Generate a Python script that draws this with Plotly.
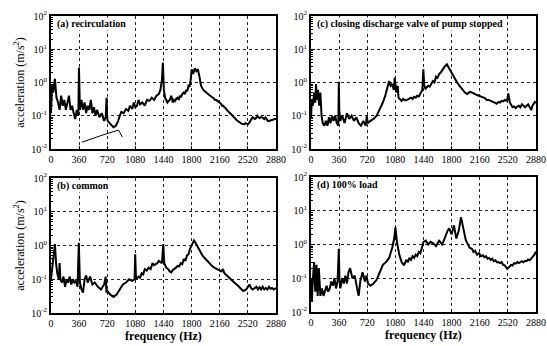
import plotly.graph_objects as go

# ---------------- data ----------------
freq_a = [0, 15, 30, 50, 70, 90, 110, 130, 150, 170, 190, 210, 230, 250, 270, 290, 310, 330, 350, 358, 362, 370,
          390, 410, 430, 450, 470, 490, 510, 530, 550, 570, 590, 620, 650, 680, 700, 712, 718, 725, 750, 780, 800,
          830, 860, 880, 900, 930, 960, 990, 1010, 1040, 1060, 1080, 1100, 1120, 1140, 1170, 1200, 1230, 1260, 1290,
          1320, 1350, 1380, 1400, 1420, 1432, 1445, 1460, 1475, 1490, 1505, 1520, 1540, 1560, 1575, 1590, 1605, 1620,
          1635, 1650, 1665, 1680, 1700, 1715, 1730, 1745, 1760, 1775, 1790, 1800, 1820, 1840, 1860, 1880, 1900, 1920,
          1950, 1965, 1980, 1995, 2010, 2025, 2040, 2055, 2070, 2085, 2100, 2115, 2130, 2145, 2160, 2175, 2190, 2205,
          2220, 2235, 2250, 2265, 2280, 2295, 2310, 2325, 2340, 2355, 2370, 2385, 2400, 2415, 2430, 2445, 2460, 2475,
          2490, 2505, 2520, 2535, 2550, 2565, 2580, 2595, 2610, 2625, 2640, 2655, 2670, 2685, 2700, 2715, 2730, 2745,
          2760, 2775, 2790, 2805, 2820, 2835, 2850, 2865, 2880]
acc_a = [0.12, 0.9, 0.5, 1.3, 0.35, 0.25, 0.15, 0.4, 0.2, 0.3, 0.15, 0.25, 0.4, 0.15, 0.2, 0.12, 0.08, 0.15, 0.1, 2.8,
         0.4, 0.15, 0.3, 0.15, 0.25, 0.12, 0.2, 0.15, 0.3, 0.12, 0.18, 0.1, 0.15, 0.09, 0.12, 0.07, 0.09, 0.35, 0.1,
         0.07, 0.06, 0.05, 0.045, 0.05, 0.07, 0.1, 0.13, 0.12, 0.16, 0.14, 0.2, 0.16, 0.25, 0.18, 0.2, 0.3, 0.22, 0.25,
         0.2, 0.3, 0.28, 0.35, 0.3, 0.4, 0.45, 0.6, 1.2, 4.0, 0.6, 0.35, 0.3, 0.25, 0.28, 0.3, 0.4, 0.25, 0.3, 0.28,
         0.33, 0.35, 0.3, 0.4, 0.36, 0.45, 0.5, 0.45, 0.6, 0.55, 0.8, 0.75, 1.3, 2.5, 1.8, 2.7, 2.2, 2.5, 1.5, 0.8,
         0.6, 0.55, 0.5, 0.48, 0.45, 0.42, 0.4, 0.37, 0.35, 0.33, 0.3, 0.3, 0.28, 0.26, 0.25, 0.23, 0.2, 0.2,
         0.18, 0.17, 0.15, 0.14, 0.13, 0.12, 0.11, 0.1, 0.09, 0.085, 0.075, 0.07, 0.065, 0.062, 0.06, 0.057, 0.055,
         0.056, 0.06, 0.057, 0.055, 0.06, 0.07, 0.075, 0.09, 0.085, 0.08, 0.085, 0.1, 0.09, 0.085, 0.09, 0.09, 0.085,
         0.08, 0.09, 0.075, 0.07, 0.07, 0.072, 0.075, 0.078, 0.08, 0.08, 0.08]

freq_b = [0, 20, 35, 50, 65, 80, 100, 110, 120, 140, 160, 180, 200, 220, 240, 260, 280, 300, 320, 340, 356, 362, 370,
          390, 410, 430, 450, 470, 500, 530, 560, 600, 640, 680, 700, 710, 720, 760, 800, 840, 880, 920, 960, 1000,
          1040, 1070, 1078, 1088, 1120, 1140, 1160, 1180, 1200, 1225, 1250, 1275, 1300, 1320, 1340, 1360, 1380, 1400,
          1420, 1437, 1450, 1475, 1500, 1520, 1540, 1560, 1580, 1600, 1620, 1640, 1660, 1680, 1700, 1720, 1740, 1760,
          1780, 1810, 1830, 1850, 1880, 1910, 1940, 1970, 2000, 2030, 2060, 2090, 2120, 2150, 2180, 2200, 2220, 2250,
          2280, 2300, 2330, 2360, 2390, 2420, 2460, 2500, 2540, 2560, 2580, 2610, 2630, 2650, 2670, 2690, 2710, 2730,
          2750, 2770, 2790, 2810, 2830, 2850, 2880]
acc_b = [0.1, 0.3, 0.5, 1.1, 0.3, 0.15, 0.1, 0.3, 0.1, 0.08, 0.12, 0.06, 0.1, 0.08, 0.12, 0.07, 0.1, 0.08, 0.09, 0.06,
         1.2, 0.2, 0.08, 0.05, 0.04, 0.1, 0.13, 0.08, 0.12, 0.07, 0.08, 0.06, 0.05, 0.07, 0.12, 0.04, 0.045, 0.035,
         0.03, 0.035, 0.05, 0.07, 0.08, 0.1, 0.09, 0.1, 0.55, 0.1, 0.12, 0.11, 0.15, 0.14, 0.2, 0.18, 0.22, 0.2, 0.3,
         0.26, 0.28, 0.3, 0.35, 0.32, 0.3, 1.1, 0.3, 0.22, 0.2, 0.17, 0.16, 0.19, 0.2, 0.22, 0.25, 0.24, 0.3, 0.28,
         0.4, 0.35, 0.5, 0.55, 0.8, 1.1, 1.4, 1.2, 0.9, 0.65, 0.5, 0.42, 0.35, 0.3, 0.25, 0.22, 0.2, 0.18, 0.17,
         0.2, 0.15, 0.13, 0.11, 0.1, 0.085, 0.075, 0.065, 0.055, 0.045, 0.05, 0.07, 0.055, 0.05, 0.055, 0.06, 0.05,
         0.058, 0.05, 0.06, 0.05, 0.055, 0.05, 0.06, 0.052, 0.055, 0.05, 0.055, 0.06]

freq_c = [0, 10, 25, 40, 55, 64, 75, 90, 105, 120, 135, 150, 170, 190, 210, 230, 250, 270, 290, 310, 330, 350, 356,
          362, 375, 400, 430, 460, 490, 520, 550, 580, 610, 640, 670, 700, 715, 725, 760, 800, 840, 880, 920, 950,
          980, 1000, 1020, 1040, 1060, 1072, 1090, 1110, 1120, 1140, 1160, 1180, 1205, 1230, 1255, 1280, 1300, 1320,
          1340, 1360, 1380, 1400, 1425, 1438, 1450, 1465, 1480, 1500, 1520, 1540, 1560, 1580, 1600, 1620, 1640, 1660,
          1680, 1710, 1740, 1770, 1800, 1830, 1870, 1900, 1940, 1970, 2000, 2030, 2060, 2080, 2100, 2125, 2150,
          2175, 2200, 2225, 2250, 2275, 2300, 2325, 2350, 2375, 2400, 2420, 2440, 2460, 2480, 2510, 2525, 2545, 2565,
          2580, 2600, 2620, 2640, 2660, 2680, 2700, 2720, 2740, 2760, 2780, 2800, 2820, 2835, 2850, 2865, 2880]
acc_c = [0.08, 0.3, 0.2, 0.5, 0.25, 0.9, 0.3, 0.6, 0.2, 0.5, 0.1, 0.06, 0.05, 0.07, 0.05, 0.09, 0.06, 0.1, 0.07, 0.1,
         0.06, 0.05, 1.05, 0.15, 0.07, 0.1, 0.06, 0.12, 0.08, 0.1, 0.07, 0.09, 0.06, 0.05, 0.07, 0.05, 0.1, 0.06, 0.07,
         0.08, 0.1, 0.15, 0.25, 0.4, 0.7, 1.1, 0.8, 0.9, 0.6, 1.4, 0.5, 0.8, 0.35, 0.3, 0.28, 0.32, 0.29, 0.3, 0.33,
         0.35, 0.32, 0.37, 0.35, 0.4, 0.38, 0.45, 0.6, 2.5, 0.8, 0.65, 0.7, 0.8, 0.75, 0.9, 1.1, 1.0, 1.5, 1.4, 1.8,
         2.0, 2.4, 3.0, 3.5, 2.6, 2.0, 1.5, 1.0, 0.8, 0.6, 0.5, 0.45, 0.52, 0.5, 0.46, 0.45, 0.42, 0.4, 0.38, 0.36,
         0.34, 0.3, 0.3, 0.28, 0.27, 0.25, 0.23, 0.26, 0.25, 0.28, 0.27, 0.3, 0.28, 0.47, 0.25, 0.2, 0.18, 0.19,
         0.17, 0.19, 0.2, 0.18, 0.22, 0.2, 0.18, 0.2, 0.22, 0.18, 0.15, 0.2, 0.22, 0.26, 0.24]

freq_d = [0, 10, 25, 40, 55, 70, 85, 100, 120, 140, 160, 180, 200, 220, 240, 260, 280, 300, 320, 340, 356, 364, 375,
          400, 420, 440, 460, 480, 500, 530, 560, 590, 610, 630, 660, 690, 710, 730, 760, 800, 840, 880, 920, 960,
          1000, 1040, 1065, 1080, 1100, 1130, 1160, 1190, 1220, 1240, 1260, 1280, 1300, 1320, 1340, 1360, 1380, 1400,
          1420, 1440, 1470, 1500, 1530, 1560, 1600, 1640, 1680, 1720, 1750, 1770, 1800, 1830, 1860, 1890, 1920,
          1950, 1980, 2000, 2030, 2060, 2080, 2100, 2125, 2150, 2175, 2200, 2220, 2240, 2260, 2280, 2300, 2320,
          2340, 2360, 2380, 2400, 2420, 2440, 2460, 2480, 2510, 2540, 2560, 2580, 2600, 2620, 2640, 2660, 2680,
          2700, 2720, 2740, 2760, 2780, 2800, 2820, 2840, 2860, 2880]
acc_d = [0.1, 0.02, 0.1, 0.3, 0.04, 0.25, 0.03, 0.2, 0.03, 0.05, 0.03, 0.04, 0.06, 0.04, 0.05, 0.08, 0.06, 0.1, 0.05,
         0.08, 0.75, 0.1, 0.05, 0.1, 0.07, 0.12, 0.07, 0.15, 0.2, 0.1, 0.12, 0.05, 0.03, 0.08, 0.15, 0.08, 0.12,
         0.07, 0.06, 0.07, 0.09, 0.15, 0.25, 0.3, 0.4, 0.8, 1.5, 3.2, 1.2, 0.5, 0.3, 0.24, 0.35, 0.3, 0.4, 0.35, 0.45,
         0.4, 0.5, 0.45, 0.6, 0.55, 0.8, 1.2, 1.3, 1.0, 1.2, 1.1, 0.9, 1.3, 1.0, 1.8, 2.6, 3.0, 2.0, 3.7, 1.5, 2.5,
         6.4, 3.0, 1.4, 1.1, 0.8, 0.75, 0.6, 0.65, 0.5, 0.55, 0.45, 0.48, 0.42, 0.45, 0.38, 0.4, 0.35, 0.38, 0.32,
         0.34, 0.3, 0.3, 0.28, 0.3, 0.25, 0.24, 0.19, 0.22, 0.25, 0.24, 0.28, 0.27, 0.3, 0.28, 0.3, 0.32, 0.3, 0.33,
         0.32, 0.36, 0.34, 0.38, 0.45, 0.5, 0.62]

pointer_f = [396, 500, 588, 716, 800, 865, 912]
pointer_v = [0.016, 0.02, 0.023, 0.029, 0.034, 0.037, 0.023]

panel_titles = ["(a) recirculation", "(b) common",
                "(c) closing discharge valve of pump stopped", "(d) 100% load"]
x_ticks = [0, 360, 720, 1080, 1440, 1800, 2160, 2520, 2880]
y_ticks = [0.01, 0.1, 1, 10, 100]
y_ticktext = ["10<sup>-2</sup>", "10<sup>-1</sup>", "10<sup>0</sup>", "10<sup>1</sup>", "10<sup>2</sup>"]

# ---------------- figure ----------------
W, H = 547, 346
FONT = "Liberation Serif"

fig = go.Figure()

boxes = {
    "a": (51, 276, 16, 149),
    "b": (51, 276, 178, 313),
    "c": (311, 536, 16, 149),
    "d": (311, 536, 177, 312),
}
series = {"a": (freq_a, acc_a), "b": (freq_b, acc_b), "c": (freq_c, acc_c), "d": (freq_d, acc_d)}
titles = {"a": panel_titles[0], "b": panel_titles[1], "c": panel_titles[2], "d": panel_titles[3]}

minor_vals = []
for dec in [0.01, 0.1, 1, 10]:
    for k in range(2, 10):
        minor_vals.append(dec * k)

for i, key in enumerate(["a", "b", "c", "d"]):
    n = i + 1
    xa = "x" if n == 1 else f"x{n}"
    ya = "y" if n == 1 else f"y{n}"
    l, r, t, b = boxes[key]
    f, v = series[key]
    fig.add_trace(go.Scatter(x=f, y=v, mode="lines", line=dict(color="black", width=2),
                             xaxis=xa, yaxis=ya, showlegend=False, hoverinfo="skip"))
    xname = "xaxis" if n == 1 else f"xaxis{n}"
    yname = "yaxis" if n == 1 else f"yaxis{n}"
    bottom_row = key in ("b", "d")
    left_col = key in ("a", "b")
    fig.update_layout(**{
        xname: dict(domain=[l / W, r / W], anchor=ya, range=[0, 2880],
                    tickvals=x_ticks, ticktext=[str(t_) for t_ in x_ticks],
                    showgrid=True, gridcolor="#222", griddash="dot", gridwidth=1,
                    showline=True, linecolor="black", linewidth=1.5, mirror=True,
                    ticks="inside", ticklen=3, tickcolor="black", zeroline=False,
                    tickfont=dict(family=FONT, size=10, color="black"),
                    title=dict(text="<b>frequency (Hz)</b>" if bottom_row else "", standoff=2,
                               font=dict(family=FONT, size=12, color="black")),
                    automargin=False),
        yname: dict(domain=[1 - b / H, 1 - t / H], anchor=xa, type="log", range=[-2, 2],
                    tickvals=y_ticks, ticktext=y_ticktext,
                    showgrid=True, gridcolor="#222", griddash="dot", gridwidth=1,
                    showline=True, linecolor="black", linewidth=2, mirror=True,
                    ticks="inside", ticklen=4, tickcolor="black", zeroline=False,
                    minor=dict(tickvals=minor_vals, ticks="inside", ticklen=2, tickcolor="black",
                               showgrid=False),
                    tickfont=dict(family=FONT, size=10, color="black"),
                    title=dict(text="acceleration (m/s<sup>2</sup>)" if left_col else "", standoff=4,
                               font=dict(family=FONT, size=12, color="black")),
                    automargin=False),
    })
    fig.add_annotation(text="<b>" + titles[key] + "</b>", xref=f"{xa} domain", yref=f"{ya} domain",
                       x=0.02, y=0.99, xanchor="left", yanchor="top", showarrow=False,
                       font=dict(family=FONT, size=10, color="black"), bgcolor="white", borderpad=0)

fig.add_trace(go.Scatter(x=pointer_f, y=pointer_v, mode="lines", line=dict(color="black", width=1),
                         xaxis="x", yaxis="y", showlegend=False, hoverinfo="skip"))

fig.update_layout(width=W, height=H, margin=dict(l=0, r=0, t=0, b=0),
                  paper_bgcolor="white", plot_bgcolor="white",
                  font=dict(family=FONT, color="black"))

fig.write_html("out.html")
